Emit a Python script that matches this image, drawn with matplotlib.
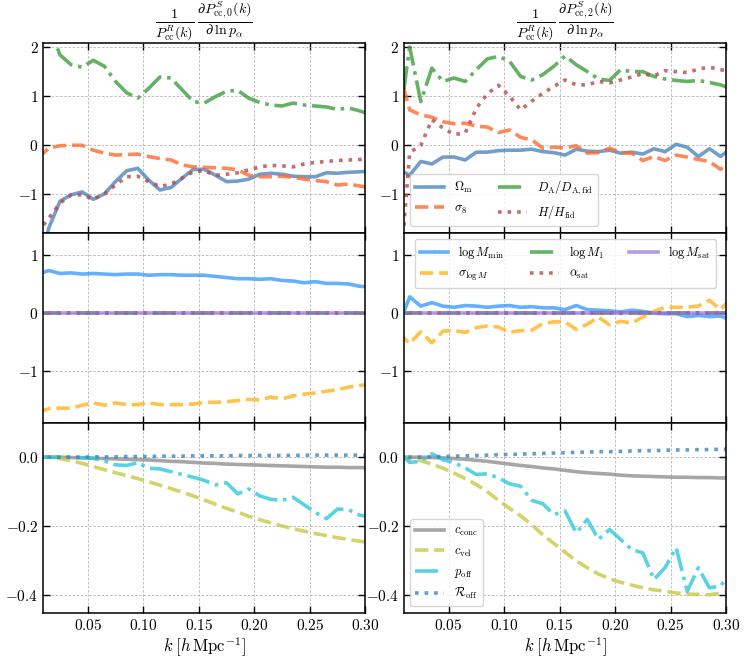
import matplotlib
matplotlib.use('Agg')
import matplotlib.pyplot as plt

plt.rcParams['mathtext.fontset'] = 'cm'
plt.rcParams['font.family'] = ['DejaVu Serif']

# k bins
k = [0.005, 0.015, 0.025, 0.035, 0.045, 0.055, 0.065, 0.075, 0.085, 0.095,
     0.105, 0.115, 0.125, 0.135, 0.145, 0.155, 0.165, 0.175, 0.185, 0.195,
     0.205, 0.215, 0.225, 0.235, 0.245, 0.255, 0.265, 0.275, 0.285, 0.295, 0.305]

zero = [0.0, 0.0, 0.0, 0.0, 0.0, 0.0, 0.0, 0.0, 0.0, 0.0, 0.0, 0.0, 0.0, 0.0, 0.0, 0.0,
        0.0, 0.0, 0.0, 0.0, 0.0, 0.0, 0.0, 0.0, 0.0, 0.0, 0.0, 0.0, 0.0, 0.0, 0.0]

# cosmology, monopole
om_0 = [-2.5, -1.68, -1.14, -1.01, -0.95, -1.10, -0.99, -0.74, -0.52, -0.47, -0.71, -0.91, -0.86,
        -0.67, -0.49, -0.49, -0.61, -0.74, -0.73, -0.69, -0.59, -0.57, -0.59, -0.63, -0.64, -0.64,
        -0.56, -0.57, -0.55, -0.54, -0.53]
s8_0 = [-0.26, -0.06, -0.01, 0.0, 0.0, -0.10, -0.16, -0.20, -0.19, -0.18, -0.23, -0.27, -0.30,
        -0.40, -0.44, -0.45, -0.46, -0.47, -0.50, -0.61, -0.64, -0.64, -0.63, -0.65, -0.69, -0.72,
        -0.74, -0.81, -0.79, -0.83, -0.87]
da_0 = [2.6, 2.45, 1.84, 1.64, 1.59, 1.73, 1.61, 1.30, 1.07, 0.96, 1.16, 1.39, 1.37, 1.13, 0.89,
        0.86, 0.99, 1.10, 1.12, 0.96, 0.87, 0.82, 0.80, 0.86, 0.82, 0.80, 0.78, 0.73, 0.76, 0.70, 0.62]
h_0 = [-1.78, -1.48, -1.18, -1.01, -1.01, -1.10, -0.99, -0.81, -0.64, -0.63, -0.74, -0.84, -0.79,
       -0.67, -0.54, -0.52, -0.61, -0.59, -0.56, -0.50, -0.44, -0.41, -0.42, -0.44, -0.38, -0.35,
       -0.33, -0.31, -0.30, -0.29, -0.28]

# cosmology, quadrupole
om_2 = [-0.49, -0.61, -0.33, -0.38, -0.24, -0.24, -0.30, -0.14, -0.14, -0.11, -0.10, -0.10, -0.08,
        -0.13, -0.15, -0.20, -0.08, -0.12, -0.13, -0.10, -0.16, -0.14, -0.18, -0.07, -0.13, 0.02,
        -0.04, -0.23, -0.07, -0.23, -0.05]
s8_2 = [1.54, 0.72, 0.62, 0.57, 0.48, 0.44, 0.45, 0.39, 0.37, 0.26, 0.31, 0.16, 0.11, -0.06, -0.04,
        -0.05, -0.01, -0.16, -0.15, -0.06, -0.15, -0.16, -0.31, -0.23, -0.31, -0.20, -0.24, -0.29,
        -0.33, -0.49, -0.31]
da_2 = [0.37, 2.0, 0.89, 1.57, 1.30, 1.37, 1.30, 1.54, 1.76, 1.81, 1.71, 1.40, 1.33, 1.44, 1.61,
        1.82, 1.64, 1.50, 1.35, 1.32, 1.54, 1.50, 1.50, 1.40, 1.35, 1.32, 1.30, 1.32, 1.28, 1.23, 1.15]
h_2 = [-3.0, -0.15, 0.0, 0.52, 0.35, 0.22, 0.25, 0.75, 1.05, 1.22, 1.0, 0.72, 0.9, 1.06, 1.20,
       1.33, 1.23, 1.23, 1.30, 1.27, 1.33, 1.39, 1.46, 1.41, 1.52, 1.50, 1.48, 1.55, 1.59, 1.54, 1.50]

# HOD
mmin_0 = [0.67, 0.73, 0.68, 0.69, 0.67, 0.68, 0.67, 0.66, 0.67, 0.67, 0.65, 0.66, 0.66, 0.65, 0.65,
          0.65, 0.63, 0.61, 0.59, 0.59, 0.58, 0.59, 0.56, 0.55, 0.52, 0.54, 0.51, 0.51, 0.50, 0.46, 0.45]
slogm_0 = [-1.70, -1.64, -1.63, -1.63, -1.58, -1.54, -1.58, -1.54, -1.57, -1.57, -1.54, -1.57, -1.57,
           -1.57, -1.56, -1.53, -1.53, -1.52, -1.50, -1.48, -1.49, -1.44, -1.47, -1.42, -1.39, -1.37,
           -1.34, -1.31, -1.27, -1.24, -1.22]
mmin_2 = [-0.22, 0.28, 0.12, 0.18, 0.12, 0.10, 0.13, 0.12, 0.10, 0.12, 0.13, 0.10, 0.11, 0.09, 0.09,
          0.06, 0.13, 0.06, 0.05, 0.04, 0.02, 0.05, 0.03, 0.0, -0.01, -0.01, -0.06, -0.04, -0.06,
          -0.05, -0.12]
slogm_2 = [-0.34, -0.52, -0.32, -0.51, -0.31, -0.30, -0.33, -0.25, -0.22, -0.24, -0.33, -0.30, -0.29,
           -0.18, -0.15, -0.15, -0.28, -0.19, -0.07, -0.20, -0.14, -0.17, -0.07, 0.03, 0.10, 0.10,
           0.10, 0.12, 0.22, 0.06, 0.26]

# miscentering / velocity
cconc_0 = [0.0, 0.0, 0.0, -0.001, -0.002, -0.003, -0.004, -0.005, -0.006, -0.007, -0.008, -0.010,
           -0.012, -0.013, -0.015, -0.017, -0.018, -0.020, -0.021, -0.022, -0.023, -0.024, -0.025,
           -0.026, -0.027, -0.028, -0.029, -0.029, -0.030, -0.030, -0.031]
cvel_0 = [0.0, 0.0, -0.004, -0.010, -0.018, -0.027, -0.036, -0.045, -0.053, -0.062, -0.071, -0.081,
          -0.091, -0.101, -0.112, -0.124, -0.136, -0.148, -0.159, -0.171, -0.181, -0.190, -0.199,
          -0.207, -0.214, -0.221, -0.227, -0.233, -0.238, -0.243, -0.248]
poff_0 = [0.0, 0.0, 0.0, 0.0, -0.001, -0.003, -0.011, -0.022, -0.024, -0.016, -0.032, -0.034, -0.042,
          -0.050, -0.058, -0.067, -0.080, -0.074, -0.106, -0.092, -0.112, -0.122, -0.125, -0.116,
          -0.138, -0.160, -0.178, -0.150, -0.152, -0.168, -0.172]
roff_0 = [0.0, 0.0, 0.0, 0.0, 0.0, 0.001, 0.001, 0.001, 0.002, 0.002, 0.002, 0.003, 0.003, 0.003,
          0.004, 0.004, 0.004, 0.004, 0.005, 0.005, 0.005, 0.005, 0.005, 0.005, 0.006, 0.006, 0.006,
          0.006, 0.006, 0.006, 0.006]
cconc_2 = [0.0, 0.0, 0.0, -0.001, -0.002, -0.004, -0.006, -0.009, -0.012, -0.016, -0.020, -0.024,
           -0.027, -0.031, -0.034, -0.038, -0.042, -0.045, -0.047, -0.049, -0.052, -0.054, -0.055,
           -0.056, -0.057, -0.058, -0.058, -0.059, -0.059, -0.060, -0.060]
cvel_2 = [0.0, -0.004, -0.010, -0.020, -0.032, -0.046, -0.062, -0.079, -0.100, -0.125, -0.148, -0.170,
          -0.195, -0.225, -0.250, -0.275, -0.300, -0.320, -0.338, -0.352, -0.362, -0.370, -0.378,
          -0.384, -0.388, -0.393, -0.396, -0.397, -0.398, -0.394, -0.388]
poff_2 = [0.015, -0.015, -0.012, 0.010, -0.007, -0.016, -0.031, -0.050, -0.048, -0.060, -0.077, -0.084,
          -0.125, -0.135, -0.166, -0.156, -0.219, -0.180, -0.238, -0.209, -0.238, -0.267, -0.277,
          -0.354, -0.320, -0.262, -0.388, -0.320, -0.378, -0.373, -0.330]
roff_2 = [0.0, 0.0, 0.0, 0.001, 0.002, 0.003, 0.004, 0.005, 0.006, 0.007, 0.008, 0.009, 0.010, 0.011,
          0.012, 0.013, 0.014, 0.015, 0.016, 0.016, 0.017, 0.018, 0.019, 0.019, 0.020, 0.021, 0.021,
          0.022, 0.022, 0.023, 0.023]

x_ticks = [0.05, 0.10, 0.15, 0.20, 0.25, 0.30]
x_ticklabels = ['$0.05$', '$0.10$', '$0.15$', '$0.20$', '$0.25$', '$0.30$']
titles = [r'$\frac{1}{P^R_{\rm cc}(k)}\,\frac{\partial P^S_{{\rm cc},0}(k)}{\partial\,\ln p_\alpha}$',
          r'$\frac{1}{P^R_{\rm cc}(k)}\,\frac{\partial P^S_{{\rm cc},2}(k)}{\partial\,\ln p_\alpha}$']

lw = 2.6
fig = plt.figure(figsize=(7.47, 6.61), dpi=100)
lefts = [0.058, 0.541]
bottoms = [0.648, 0.3605, 0.0731]
w, h = 0.431, 0.2875

axes = [[fig.add_axes([l, b, w, h]) for l in lefts] for b in bottoms]

cosmo = [(om_0, s8_0, da_0, h_0), (om_2, s8_2, da_2, h_2)]
hod = [(mmin_0, slogm_0), (mmin_2, slogm_2)]
misc = [(cconc_0, cvel_0, poff_0, roff_0), (cconc_2, cvel_2, poff_2, roff_2)]

for j in range(2):
    ax = axes[0][j]
    om, s8, da, hh = cosmo[j]
    ax.plot(k, om, color='#4f86bf', alpha=0.8, lw=lw, label=r'$\Omega_{\rm m}$')
    ax.plot(k, s8, color='#ff6a30', alpha=0.8, lw=lw, ls='--', label=r'$\sigma_8$')
    ax.plot(k, da, color='#3f9f3f', alpha=0.8, lw=lw, ls='-.', label=r'$D_{\rm A}/D_{\rm A,fid}$')
    ax.plot(k, hh, color='#b84848', alpha=0.8, lw=lw, ls=':', label=r'$H/H_{\rm fid}$')
    ax.set_ylim(-1.78, 2.09)
    ax.set_yticks([-1, 0, 1, 2], ['$-1$', '$0$', '$1$', '$2$'])

    ax = axes[1][j]
    mm, sl = hod[j]
    ax.plot(k, mm, color='#3d9cff', alpha=0.8, lw=lw, label=r'$\log M_{\rm min}$')
    ax.plot(k, sl, color='#ffb520', alpha=0.8, lw=lw, ls='--', label=r'$\sigma_{\log M}$')
    ax.plot(k, zero, color='#3f9f3f', alpha=0.8, lw=lw, ls='-.', label=r'$\log M_1$')
    ax.plot(k, zero, color='#b84848', alpha=0.8, lw=lw, ls=':', label=r'$\alpha_{\rm sat}$')
    ax.plot(k, zero, color='#9370db', alpha=0.7, lw=lw, label=r'$\log M_{\rm sat}$')
    ax.set_ylim(-1.88, 1.38)
    ax.set_yticks([-1, 0, 1], ['$-1$', '$0$', '$1$'])

    ax = axes[2][j]
    cc, cv, po, ro = misc[j]
    ax.plot(k, cc, color='#909090', alpha=0.8, lw=lw, label=r'$c_{\rm conc}$')
    ax.plot(k, cv, color='#c8c845', alpha=0.8, lw=lw, ls='--', label=r'$c_{\rm vel}$')
    ax.plot(k, po, color='#30c8dc', alpha=0.8, lw=lw, ls='-.', label=r'$p_{\rm off}$')
    ax.plot(k, ro, color='#3a86c0', alpha=0.8, lw=lw, ls=':', label=r'$\mathcal{R}_{\rm off}$')
    ax.set_ylim(-0.45, 0.1)
    ax.set_yticks([-0.4, -0.2, 0.0], ['$-0.4$', '$-0.2$', '$0.0$'])

for row in axes:
    for ax in row:
        ax.set_xlim(0.01, 0.30)
        ax.set_xticks(x_ticks)
        ax.grid(True, ls=(0, (3, 2)), lw=0.6, color='#b5b5b5')
        ax.tick_params(direction='in', top=True, right=True, length=5, width=1,
                       labelsize=11)
        for s in ax.spines.values():
            s.set_linewidth(1.1)
        if row is axes[2]:
            ax.set_xticklabels(x_ticklabels)
            ax.set_xlabel(r'$k\;[h\,{\rm Mpc}^{-1}]$', fontsize=12, labelpad=2)
        else:
            ax.set_xticklabels([])

for j in range(2):
    axes[0][j].set_title(titles[j], fontsize=14.5, pad=3)

axes[0][1].legend(loc='lower left', ncol=2, fontsize=9, handlelength=2.3)
axes[1][1].legend(loc='upper center', ncol=3, fontsize=9, handlelength=2.3)
axes[2][1].legend(loc='lower left', ncol=1, fontsize=9, handlelength=2.3)

fig.savefig('out.png', dpi=100)
